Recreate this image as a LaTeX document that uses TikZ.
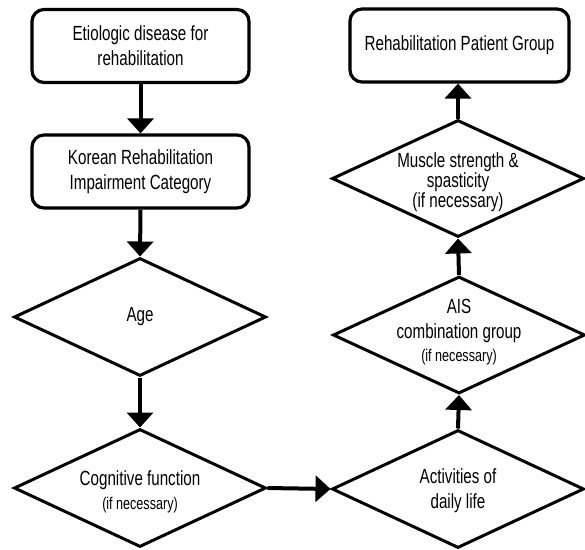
\documentclass[tikz,border=0pt]{standalone}
\usepackage{fontspec}
\setmainfont[FakeStretch=0.74]{Liberation Sans}
\usetikzlibrary{shapes.geometric,arrows.meta}
\begin{document}
\begin{tikzpicture}[x=1pt,y=-1pt,
  box/.style={draw,line width=3.2pt,rounded corners=12pt,minimum width=217pt,minimum height=73pt,inner sep=0pt,align=center,font=\fontsize{20.5}{25}\selectfont},
  dia/.style={draw,line width=3pt,diamond,inner sep=0pt,minimum width=252pt,minimum height=118pt},
  lbl/.style={align=center,inner sep=0pt,font=\fontsize{20.5}{25}\selectfont},
  arr/.style={line width=4pt,-{Triangle[length=15pt,width=26pt]}}]
\useasboundingbox (0,0) rectangle (585,549);
\node[box] (b1) at (140.5,46) {Etiologic disease for\\rehabilitation};
\node[box] (b2) at (140.5,171.5) {Korean Rehabilitation\\Impairment Category};
\node[dia] (age) at (140,317) {};
\node[lbl] at (age) {Age};
\node[dia] (cog) at (140,488) {};
\node[lbl] at (140,492) {Cognitive function\\[-1pt]{\fontsize{17}{20}\selectfont(if necessary)}};
\node[dia] (adl) at (458,489) {};
\node[lbl] at (458,491) {Activities of\\daily life};
\node[dia,minimum height=117pt] (ais) at (459,335) {};
\node[lbl] at (459,332) {AIS\\combination group\\[-2pt]{\fontsize{17}{20}\selectfont(if necessary)}};
\node[dia,minimum height=117pt] (mus) at (458,178.5) {};
\node[lbl,font=\fontsize{20.5}{20}\selectfont] at (458,182) {Muscle strength \&\\spasticity\\(if necessary)};
\node[box,minimum width=219pt] (rpg) at (459.5,45.5) {Rehabilitation Patient Group};
\draw[arr] (b1.south) -- (b2.north);
\draw[arr] (b2.south) -- (age.north);
\draw[arr] (age.south) -- (cog.north);
\draw[arr] (cog.east) -- (adl.west);
\draw[arr] (adl.north) -- (ais.south);
\draw[arr] (ais.north) -- (mus.south);
\draw[arr] (mus.north) -- (mus.north |- rpg.south);
\end{tikzpicture}
\end{document}
